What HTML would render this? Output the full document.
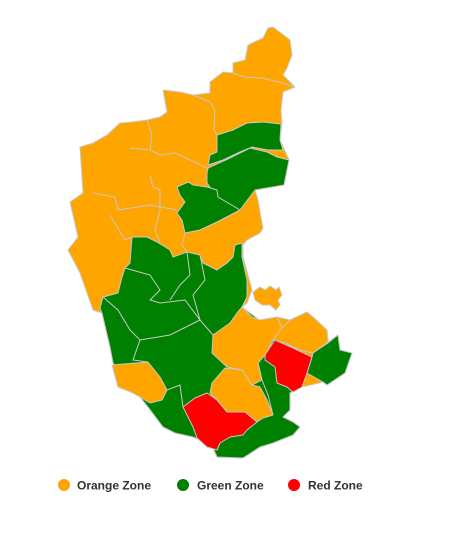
<!DOCTYPE html>
<html><head><meta charset="utf-8"><style>
body{margin:0;background:#fff;width:462px;height:536px;overflow:hidden}
svg{display:block}
.lg{font-family:"Liberation Sans",sans-serif;font-weight:bold;font-size:12px;fill:#333}
path,polygon{stroke:#c8c8c8;stroke-width:1;stroke-linejoin:round}
</style></head><body>
<svg width="462" height="536">
<g>
<polygon fill="#FFA500" points="273,27 290,40 292,55 287,68 283,75 295,87 283,92 281,110 282,123 280,140 289,160 284,185 255,190 258,200 260,212 263,228 260,233 247,240 243,245 243,257 248,275 252,290 247,303 242,307 252,317 260,320 277,317 290,320 307,312 313,317 327,330 328,342 338,335 340,350 352,353 345,373 327,385 323,382 302,387 290,393 290,410 283,417 293,422 300,427 293,435 273,443 260,447 243,458 217,457 213,448 200,440 193,437 175,433 163,427 148,407 113,363 110,347 102,313 93,310 80,273 68,250 78,237 70,202 83,193 80,147 93,143 107,135 120,123 132,122 147,120 160,117 167,112 163,90 180,92 193,95 210,93 210,82 223,72 233,73 233,63 245,60 248,45 263,38 268,28"/>
<polygon fill="#FFA500" points="253,292 260,287 265,290 270,286 276,290 279,287 282,295 278,300 280,305 276,310 270,305 262,305 255,300"/>
<polyline fill="none" stroke="#c8c8c8" points="233,73 245,77 262,78 282,83 295,87"/>
<polyline fill="none" stroke="#c8c8c8" points="193,95 210,102 215,110 214,130 217,135"/>
<polyline fill="none" stroke="#c8c8c8" points="147,120 152,135 150,150 160,155 175,153 190,160 207,168"/>
<polyline fill="none" stroke="#c8c8c8" points="130,148 150,150"/>
<polyline fill="none" stroke="#c8c8c8" points="93,193 115,197 118,210 150,205 177,210"/>
<polyline fill="none" stroke="#c8c8c8" points="150,175 153,187 160,190 160,210 155,230 160,242"/>
<polyline fill="none" stroke="#c8c8c8" points="110,215 125,240 132,237"/>
<polyline fill="none" stroke="#c8c8c8" points="185,233 182,245 187,252"/>
<polygon fill="#008000" points="217,135 233,130 247,123 263,122 281,124 280,140 283,150 268,150 252,147 240,152 223,160 208,165 210,155 217,152"/>
<polygon fill="#008000" points="208,168 230,158 250,148 267,152 277,157 289,160 284,185 255,190 240,210 217,197 207,183 207,173"/>
<polygon fill="#008000" points="177,187 188,182 193,185 207,187 217,190 218,197 240,210 217,222 200,230 185,233 182,220 177,213 185,202 180,195"/>
<polygon fill="#008000" points="132,237 147,237 157,242 170,250 173,257 187,252 200,255 203,263 217,270 227,263 233,257 235,245 242,243 242,257 247,280 247,297 242,307 262,322 278,330 288,345 290,360 300,387 290,393 290,410 283,417 293,422 300,427 293,435 273,443 260,447 243,458 217,457 213,448 200,440 193,437 175,433 163,427 148,407 113,363 110,347 102,313 100,308 103,297 118,293 122,277 125,268 130,263"/>
<polygon fill="#008000" points="312,357 313,353 328,343 338,335 340,350 352,353 345,373 327,385 323,382 307,373"/>
<polygon fill="#FFA500" points="213,335 230,323 237,313 242,307 252,317 260,320 277,317 282,328 273,340 265,355 258,363 262,380 252,385 242,370 227,367 212,353"/>
<polygon fill="#FFA500" points="282,328 290,320 307,312 313,317 327,330 328,342 313,353 300,350 285,343 273,340"/>
<polygon fill="#FF0000" points="265,355 275,340 293,348 312,357 307,373 302,387 293,392 287,387 277,383 275,367 265,360"/>
<polygon fill="#FFA500" points="212,383 225,368 242,370 252,385 260,387 267,400 273,415 263,418 257,422 245,412 227,412 217,400 210,393"/>
<polygon fill="#FF0000" points="183,407 195,398 207,393 217,400 227,412 245,412 257,422 247,430 243,435 230,437 220,443 217,450 207,447 197,438 193,427"/>
<polygon fill="#FFA500" points="112,365 148,362 160,377 167,390 162,400 150,403 133,393 118,387"/>
<polyline fill="none" stroke="#c8c8c8" points="125,268 150,275 160,290 150,300 160,303 185,300 200,320 213,335"/>
<polyline fill="none" stroke="#c8c8c8" points="187,252 190,275 180,285 170,300"/>
<polyline fill="none" stroke="#c8c8c8" points="200,255 205,280 193,295 200,320"/>
<polyline fill="none" stroke="#c8c8c8" points="103,297 118,310 130,330 140,340 133,360 148,362"/>
<polyline fill="none" stroke="#c8c8c8" points="140,340 170,335 200,320"/>
<polyline fill="none" stroke="#c8c8c8" points="167,390 180,385 183,407"/>
<polyline fill="none" stroke="#c8c8c8" points="258,363 262,380 268,395 273,415"/>
</g>
<g>
<g><circle cx="64" cy="485" r="6" fill="#FFA500"/><text class="lg" x="77" y="489.5">Orange Zone</text></g>
<g><circle cx="183" cy="485" r="6" fill="#008000"/><text class="lg" x="197" y="489.5">Green Zone</text></g>
<g><circle cx="294" cy="485" r="6" fill="#FF0000"/><text class="lg" x="308" y="489.5">Red Zone</text></g>
</g>
</svg>
</body></html>
